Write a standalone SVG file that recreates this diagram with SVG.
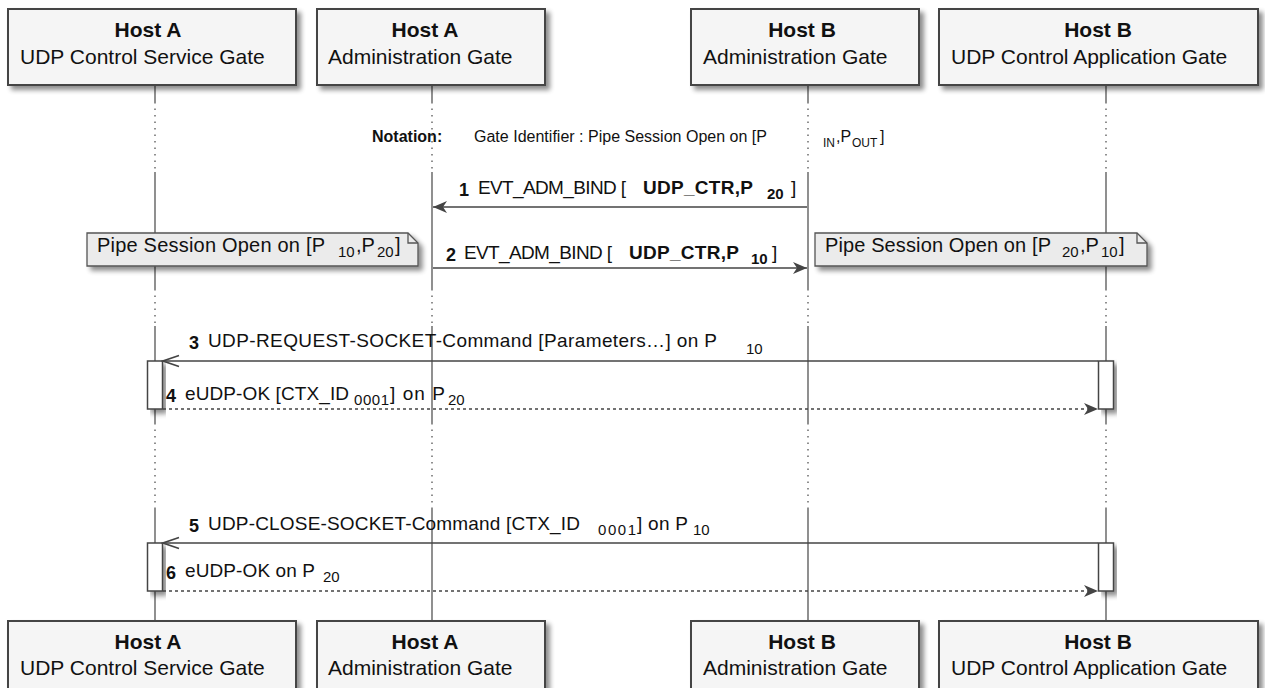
<svg xmlns="http://www.w3.org/2000/svg" width="1265" height="688" viewBox="0 0 1265 688">
<style>
text{font-family:"Liberation Sans",Arial,Helvetica,sans-serif;fill:#111}
.pbox{fill:#f5f5f5;stroke:#444;stroke-width:2}
.pt{font-size:21px;font-weight:bold;text-anchor:middle}
.ps{font-size:21px}
.ll{stroke:#555;stroke-width:1.3;fill:none}
.lld{stroke:#555;stroke-width:1.3;fill:none;stroke-dasharray:1.5 5}
.note{fill:#ebebeb;stroke:#555;stroke-width:1.3}
.fold{fill:none;stroke:#555;stroke-width:1.3}
.nt{font-size:20px}
.act{fill:#fff;stroke:#444;stroke-width:1.5}
.msg{stroke:#444;stroke-width:1.5;fill:none}
.dash{stroke-dasharray:3 3}
.m{font-size:19px}
.b{font-weight:bold}
.num{font-size:18px;font-weight:bold}
.sub{font-size:15px}
.nota{font-size:16px}
.nsub{font-size:12px}
</style>
<defs>
<filter id="sh" x="-10%" y="-20%" width="130%" height="160%">
<feGaussianBlur in="SourceAlpha" stdDeviation="2.5"/>
<feOffset dx="4" dy="4"/>
<feComponentTransfer><feFuncA type="linear" slope="0.45"/></feComponentTransfer>
<feMerge><feMergeNode/><feMergeNode in="SourceGraphic"/></feMerge>
</filter>
<marker id="af" markerUnits="userSpaceOnUse" viewBox="-16 -8 17 16" refX="0" refY="0" markerWidth="17" markerHeight="16" orient="auto">
<path d="M0,0 L-14,-6 L-10,0 L-14,6 Z" fill="#444"/>
</marker>
<marker id="ao" markerUnits="userSpaceOnUse" viewBox="-18 -8 20 16" refX="0" refY="0" markerWidth="20" markerHeight="16" orient="auto">
<path d="M-16,-5.5 L0,0 L-16,5.5" fill="none" stroke="#444" stroke-width="1.6"/>
</marker>
</defs>

<g id="lifelines">
<path class="ll" d="M155,85V102 M155,172V289 M155,326V423 M155,508V621 M432,85V102 M432,172V289 M432,326V423 M432,508V621 M808,85V102 M808,172V289 M808,326V423 M808,508V621 M1106,85V102 M1106,172V289 M1106,326V423 M1106,508V621"/>
<path class="lld" d="M155,102V172 M155,289V326 M155,423V508 M432,102V172 M432,289V326 M432,423V508 M808,102V172 M808,289V326 M808,423V508 M1106,102V172 M1106,289V326 M1106,423V508"/>
</g>

<g id="p1-top">
<rect class="pbox" x="8" y="9" width="288" height="76" filter="url(#sh)"/>
<text class="pt" x="148" y="37">Host A</text>
<text class="ps" x="20" y="64">UDP Control Service Gate</text>
</g>
<g id="p2-top">
<rect class="pbox" x="317" y="9" width="228" height="76" filter="url(#sh)"/>
<text class="pt" x="425" y="37">Host A</text>
<text class="ps" x="328" y="64">Administration Gate</text>
</g>
<g id="p3-top">
<rect class="pbox" x="691" y="9" width="228" height="76" filter="url(#sh)"/>
<text class="pt" x="802" y="37">Host B</text>
<text class="ps" x="703" y="64">Administration Gate</text>
</g>
<g id="p4-top">
<rect class="pbox" x="939" y="9" width="319" height="76" filter="url(#sh)"/>
<text class="pt" x="1098" y="37">Host B</text>
<text class="ps" x="951" y="64">UDP Control Application Gate</text>
</g>

<g id="p1-bottom">
<rect class="pbox" x="8" y="621" width="288" height="76" filter="url(#sh)"/>
<text class="pt" x="148" y="649">Host A</text>
<text class="ps" x="20" y="675">UDP Control Service Gate</text>
</g>
<g id="p2-bottom">
<rect class="pbox" x="317" y="621" width="228" height="76" filter="url(#sh)"/>
<text class="pt" x="425" y="649">Host A</text>
<text class="ps" x="328" y="675">Administration Gate</text>
</g>
<g id="p3-bottom">
<rect class="pbox" x="691" y="621" width="228" height="76" filter="url(#sh)"/>
<text class="pt" x="802" y="649">Host B</text>
<text class="ps" x="703" y="675">Administration Gate</text>
</g>
<g id="p4-bottom">
<rect class="pbox" x="939" y="621" width="319" height="76" filter="url(#sh)"/>
<text class="pt" x="1098" y="649">Host B</text>
<text class="ps" x="951" y="675">UDP Control Application Gate</text>
</g>

<g id="notation">
<text class="nota b" x="372" y="142">Notation:</text>
<text class="nota" x="474" y="142" textLength="293">Gate Identifier : Pipe Session Open on [P</text>
<text class="nsub" x="823" y="147">IN</text>
<text class="nota" x="836" y="142">,P</text>
<text class="nsub" x="852" y="147">OUT</text>
<text class="nota" x="880" y="142">]</text>
</g>

<g id="note-left">
<path class="note" d="M87,233 H408 L418,243 V266 H87 Z" filter="url(#sh)"/>
<path class="fold" d="M408,233 V243 H418"/>
<text class="nt" x="97" y="252" textLength="228">Pipe Session Open on [P</text>
<text class="sub" x="338" y="257">10</text>
<text class="nt" x="356" y="252">,P</text>
<text class="sub" x="377" y="257">20</text>
<text class="nt" x="395" y="252">]</text>
</g>
<g id="note-right">
<path class="note" d="M815,233 H1137 L1147,243 V266 H815 Z" filter="url(#sh)"/>
<path class="fold" d="M1137,233 V243 H1147"/>
<text class="nt" x="825" y="252" textLength="226">Pipe Session Open on [P</text>
<text class="sub" x="1062" y="257">20</text>
<text class="nt" x="1080" y="252">,P</text>
<text class="sub" x="1101" y="257">10</text>
<text class="nt" x="1119" y="252">]</text>
</g>

<g id="act-a1"><rect class="act" x="147.5" y="361" width="15" height="48" filter="url(#sh)"/></g>
<g id="act-b1"><rect class="act" x="1098.5" y="361" width="15" height="48" filter="url(#sh)"/></g>
<g id="act-a2"><rect class="act" x="147.5" y="543" width="15" height="48" filter="url(#sh)"/></g>
<g id="act-b2"><rect class="act" x="1098.5" y="543" width="15" height="48" filter="url(#sh)"/></g>

<g id="connectors">
<line class="msg" x1="807" y1="207" x2="433" y2="207" marker-end="url(#af)"/>
<line class="msg" x1="433" y1="268" x2="807" y2="268" marker-end="url(#af)"/>
<line class="msg" x1="1098" y1="361" x2="163" y2="361" marker-end="url(#ao)"/>
<line class="msg dash" x1="163" y1="409" x2="1098" y2="409" marker-end="url(#af)"/>
<line class="msg" x1="1098" y1="543" x2="163" y2="543" marker-end="url(#ao)"/>
<line class="msg dash" x1="163" y1="591" x2="1098" y2="591" marker-end="url(#af)"/>

<g id="label-1">
<text class="num" x="459" y="196">1</text>
<text class="m" x="478" y="194" textLength="148">EVT_ADM_BIND [</text>
<text class="m b" x="643" y="194" textLength="110">UDP_CTR,P</text>
<text class="sub b" x="767" y="199">20</text>
<text class="m" x="791" y="194">]</text>
</g>
<g id="label-2">
<text class="num" x="446" y="261">2</text>
<text class="m" x="464" y="259" textLength="148">EVT_ADM_BIND [</text>
<text class="m b" x="629" y="259" textLength="110">UDP_CTR,P</text>
<text class="sub b" x="751" y="264">10</text>
<text class="m" x="772" y="259">]</text>
</g>
<g id="label-3">
<text class="num" x="189" y="349">3</text>
<text class="m" x="208" y="347" textLength="509">UDP-REQUEST-SOCKET-Command [Parameters…] on P</text>
<text class="sub" x="746" y="354">10</text>
</g>
<g id="label-4">
<text class="num" x="166" y="402">4</text>
<text class="m" x="185" y="400" textLength="164">eUDP-OK [CTX_ID</text>
<text class="sub" x="354" y="405" textLength="35">0001</text>
<text class="m" x="390" y="400" textLength="55">] on P</text>
<text class="sub" x="448" y="405">20</text>
</g>
<g id="label-5">
<text class="num" x="189" y="532">5</text>
<text class="m" x="208" y="530" textLength="372">UDP-CLOSE-SOCKET-Command [CTX_ID</text>
<text class="sub" x="598" y="535" textLength="38">0001</text>
<text class="m" x="637" y="530" textLength="51">] on P</text>
<text class="sub" x="693" y="535">10</text>
</g>
<g id="label-6">
<text class="num" x="166" y="579">6</text>
<text class="m" x="185" y="577" textLength="130">eUDP-OK on P</text>
<text class="sub" x="323" y="582">20</text>
</g>
</g>
</svg>
